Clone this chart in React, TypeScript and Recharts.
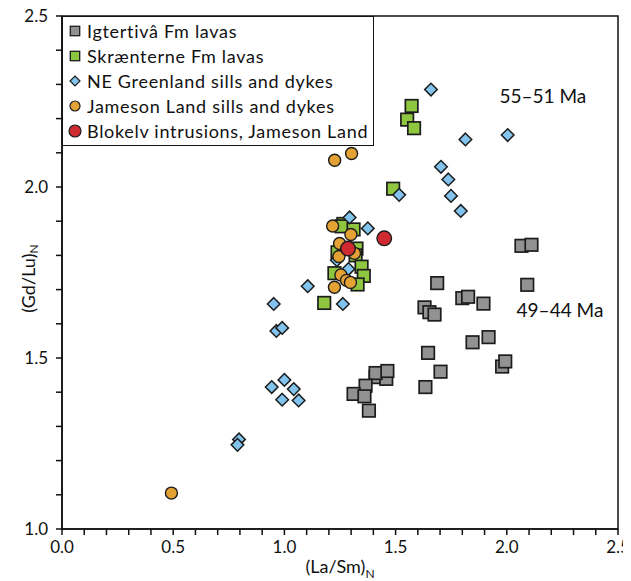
import React from 'react';
import { ScatterChart, Scatter, XAxis, YAxis, ReferenceArea, ReferenceDot, Label } from 'recharts';

const FONT = "Lato, 'Noto Sans', sans-serif";

// (La/Sm)N, (Gd/Lu)N
const igtertivaLavas: number[][] = [
  [2.066, 1.828], [2.111, 1.831], [2.092, 1.714], [1.687, 1.719], [1.800, 1.675],
  [1.826, 1.679], [1.895, 1.659], [1.630, 1.648], [1.652, 1.634], [1.675, 1.627],
  [1.918, 1.561], [1.846, 1.546], [1.646, 1.515], [1.702, 1.460], [1.634, 1.415],
  [1.979, 1.475], [1.993, 1.490], [1.410, 1.444], [1.458, 1.439], [1.410, 1.456],
  [1.463, 1.462], [1.365, 1.419], [1.311, 1.395], [1.360, 1.388], [1.380, 1.346],
];

const skraenterneLavas: number[][] = [
  [1.572, 2.237], [1.552, 2.197], [1.583, 2.172], [1.489, 1.995], [1.179, 1.661],
  [1.265, 1.892], [1.257, 1.885], [1.311, 1.876], [1.324, 1.820], [1.239, 1.809],
  [1.320, 1.800], [1.347, 1.767], [1.357, 1.740], [1.225, 1.748], [1.329, 1.715],
];

const neGreenland: number[][] = [
  [1.659, 2.285], [1.814, 2.139], [2.004, 2.152], [1.704, 2.059], [1.737, 2.022],
  [1.749, 1.974], [1.793, 1.930], [1.516, 1.977], [1.293, 1.911], [1.375, 1.879],
  [1.236, 1.786], [1.288, 1.760], [1.105, 1.710], [1.263, 1.658], [0.952, 1.658],
  [0.964, 1.579], [0.990, 1.588], [0.943, 1.415], [1.000, 1.436], [1.042, 1.409],
  [0.990, 1.378], [1.064, 1.376], [0.796, 1.262], [0.789, 1.246],
];

const jamesonLand: number[][] = [
  [0.492, 1.105], [1.226, 2.078], [1.302, 2.098], [1.217, 1.886], [1.299, 1.861],
  [1.248, 1.835], [1.245, 1.797], [1.315, 1.806], [1.254, 1.743], [1.279, 1.727],
  [1.297, 1.721], [1.225, 1.707],
];

const blokelv: number[][] = [
  [1.286, 1.820], [1.449, 1.850],
];

const xTicks = [0, 0.1, 0.2, 0.3, 0.4, 0.5, 0.6, 0.7, 0.8, 0.9, 1.0, 1.1, 1.2, 1.3, 1.4, 1.5, 1.6, 1.7, 1.8, 1.9, 2.0, 2.1, 2.2, 2.3, 2.4, 2.5];
const yTicks = [1.0, 1.1, 1.2, 1.3, 1.4, 1.5, 1.6, 1.7, 1.8, 1.9, 2.0, 2.1, 2.2, 2.3, 2.4, 2.5];

const annotations = [
  { label: '55–51 Ma', x: 1.967, y: 2.266 },
  { label: '49–44 Ma', x: 2.044, y: 1.640 },
];

const GRAY = '#929292';
const GREEN = '#8fc640';
const BLUE = '#82c4ee';
const ORANGE = '#e4a235';
const RED = '#cf2a31';
const STROKE = '#1c1c1c';

const legendItems = [
  { name: 'Igtertivâ Fm lavas', kind: 'square', color: GRAY },
  { name: 'Skrænterne Fm lavas', kind: 'square', color: GREEN },
  { name: 'NE Greenland sills and dykes', kind: 'diamond', color: BLUE },
  { name: 'Jameson Land sills and dykes', kind: 'circle', color: ORANGE },
  { name: 'Blokelv intrusions, Jameson Land', kind: 'bigcircle', color: RED },
];

const toPts = (a: number[][]) => a.map(([x, y]) => ({ x, y }));

const squareShape = (fill: string) => (p: any) => {
  const s = 12.5;
  return <rect x={p.cx - s / 2} y={p.cy - s / 2} width={s} height={s} fill={fill} stroke={STROKE} strokeWidth={1.7} />;
};
const diamondShape = (fill: string) => (p: any) => {
  const r = 6.3;
  const d = `M${p.cx},${p.cy - r}L${p.cx + r},${p.cy}L${p.cx},${p.cy + r}L${p.cx - r},${p.cy}Z`;
  return <path d={d} fill={fill} stroke={STROKE} strokeWidth={1.5} />;
};
const circleShape = (fill: string, r: number) => (p: any) => (
  <circle cx={p.cx} cy={p.cy} r={r} fill={fill} stroke={STROKE} strokeWidth={1.4} />
);

const LegendSymbol = ({ kind, color }: { kind: string; color: string }) => {
  let el: React.ReactNode = null;
  if (kind === 'square') el = <rect x={2.3} y={2.3} width={9.4} height={9.4} fill={color} stroke={STROKE} strokeWidth={1.3} />;
  if (kind === 'diamond') el = <path d="M7,2L12,7L7,12L2,7Z" fill={color} stroke={STROKE} strokeWidth={1.2} />;
  if (kind === 'circle') el = <circle cx={7} cy={7} r={5} fill={color} stroke={STROKE} strokeWidth={1.2} />;
  if (kind === 'bigcircle') el = <circle cx={7} cy={7} r={6} fill={color} stroke={STROKE} strokeWidth={1.2} />;
  return <svg width={14} height={14} style={{ display: 'block' }}>{el}</svg>;
};

const LegendBox = () => (
  <div
    style={{
      position: 'absolute',
      left: 54,
      top: 8,
      boxSizing: 'border-box',
      width: 312,
      height: 130,
      border: '1.5px solid #111',
      background: '#fff',
      padding: '2px 0 0 5px',
      fontFamily: FONT,
      fontSize: 18,
      letterSpacing: 0.7,
      color: '#111',
    }}
  >
    {legendItems.map((it) => (
      <div key={it.name} style={{ display: 'flex', alignItems: 'center', height: 24.9 }}>
        <LegendSymbol kind={it.kind} color={it.color} />
        <span style={{ marginLeft: 5, whiteSpace: 'nowrap' }}>{it.name}</span>
      </div>
    ))}
  </div>
);

const isMajor = (v: number) => Math.abs(v * 2 - Math.round(v * 2)) < 1e-6;
const fmt = (v: number) => (isMajor(v) ? v.toFixed(1) : '');

const XLabel = (props: any) => {
  const vb = props.viewBox;
  const cx = vb.x + vb.width / 2;
  return (
    <text x={cx} y={vb.y + 44} textAnchor="middle" fontFamily={FONT} fontSize={18} fill="#111">
      <tspan>(La/Sm)</tspan>
      <tspan fontSize={12} dy={5}>N</tspan>
    </text>
  );
};

const YLabel = (props: any) => {
  const vb = props.viewBox;
  const cy = vb.y + vb.height / 2 + 6;
  const x = 20;
  return (
    <text x={x} y={cy} transform={`rotate(-90, ${x}, ${cy})`} textAnchor="middle" dominantBaseline="central" fontFamily={FONT} fontSize={18} fill="#111">
      <tspan>(Gd/Lu)</tspan>
      <tspan fontSize={12} dy={5}>N</tspan>
    </text>
  );
};

export default function App() {
  const tickStyle = { fontFamily: FONT, fontSize: 17, fill: '#111' };
  return (
    <div style={{ position: 'relative', width: 620, height: 570 }}>
      <ScatterChart width={620} height={570} margin={{ top: 8, right: 10, bottom: 0, left: 0 }}>
        <XAxis
          type="number"
          dataKey="x"
          domain={[0, 2.5]}
          ticks={xTicks}
          interval={0}
          tickFormatter={fmt}
          tickSize={6}
          tickMargin={6}
          height={49}
          stroke="#111"
          strokeWidth={1.5}
          tick={tickStyle}
          allowDataOverflow
        >
          <Label content={<XLabel />} />
        </XAxis>
        <YAxis
          type="number"
          dataKey="y"
          domain={[1, 2.5]}
          ticks={yTicks}
          interval={0}
          tickFormatter={fmt}
          tickSize={6}
          tickMargin={8}
          width={54}
          stroke="#111"
          strokeWidth={1.5}
          tick={tickStyle}
          allowDataOverflow
        >
          <Label content={<YLabel />} />
        </YAxis>
        <ReferenceArea x1={0} x2={2.5} y1={1} y2={2.5} fill="none" stroke="#111" strokeWidth={1.5} ifOverflow="visible" />
        <Scatter name="Igtertivâ Fm lavas" data={toPts(igtertivaLavas)} shape={squareShape(GRAY)} isAnimationActive={false} />
        <Scatter name="Skrænterne Fm lavas" data={toPts(skraenterneLavas)} shape={squareShape(GREEN)} isAnimationActive={false} />
        <Scatter name="NE Greenland sills and dykes" data={toPts(neGreenland)} shape={diamondShape(BLUE)} isAnimationActive={false} />
        <Scatter name="Jameson Land sills and dykes" data={toPts(jamesonLand)} shape={circleShape(ORANGE, 6)} isAnimationActive={false} />
        <Scatter name="Blokelv intrusions, Jameson Land" data={toPts(blokelv)} shape={circleShape(RED, 7.3)} isAnimationActive={false} />
        {annotations.map((a) => (
          <ReferenceDot
            key={a.label}
            x={a.x}
            y={a.y}
            r={0}
            ifOverflow="visible"
            shape={(p: any) => (
              <text x={p.cx} y={p.cy} dy="0.35em" fontFamily={FONT} fontSize={19} fill="#111">
                {a.label}
              </text>
            )}
          />
        ))}
      </ScatterChart>
      <LegendBox />
    </div>
  );
}
